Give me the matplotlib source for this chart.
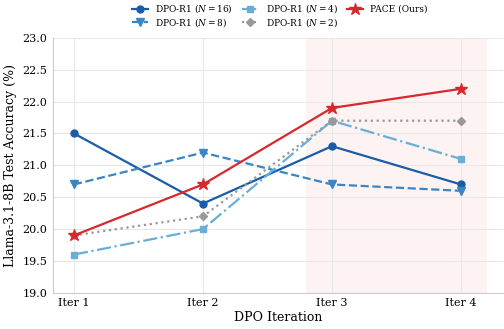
import matplotlib
matplotlib.use("Agg")
import matplotlib.pyplot as plt

iters = ["Iter 1", "Iter 2", "Iter 3", "Iter 4"]
n16 = [21.5, 20.4, 21.3, 20.7]
n8 = [20.7, 21.2, 20.7, 20.6]
n4 = [19.6, 20.0, 21.7, 21.1]
n2 = [19.9, 20.2, 21.7, 21.7]
pace = [19.9, 20.7, 21.9, 22.2]

plt.rcParams['font.family'] = ['DejaVu Serif']
plt.rcParams['mathtext.fontset'] = 'dejavuserif'

fig = plt.figure(figsize=(5.04, 3.29), dpi=100)
ax = fig.add_axes([0.105, 0.11, 0.893, 0.775])
x = list(range(len(iters)))

ax.axvspan(1.8, 3.2, color='#fdf3f2', lw=0, zorder=0)

ax.plot(x, n16, '-', color='#1a5ca8', marker='o', ms=5, lw=1.6, label=r'DPO-R1 ($N=16$)', zorder=3)
ax.plot(x, n8, '--', color='#3a85c3', marker='v', ms=5.5, lw=1.6, label=r'DPO-R1 ($N=8$)', zorder=3)
ax.plot(x, n4, '-.', color='#6aaed8', marker='s', ms=5, lw=1.6, label=r'DPO-R1 ($N=4$)', zorder=3)
ax.plot(x, n2, ':', color='#999999', marker='D', ms=4.5, lw=1.6, label=r'DPO-R1 ($N=2$)', zorder=3)
ax.plot(x, pace, '-', color='#d8282e', marker='*', ms=9, lw=1.6, label='PACE (Ours)', zorder=4)

ax.set_xlim(-0.163, 3.326)
ax.set_ylim(19.0, 23.0)
ax.set_yticks([19.0, 19.5, 20.0, 20.5, 21.0, 21.5, 22.0, 22.5, 23.0])
ax.set_yticklabels([f"{v:.1f}" for v in ax.get_yticks()])
ax.set_xticks(x)
ax.set_xticklabels(iters)
ax.tick_params(labelsize=8, length=0, pad=4)
ax.grid(True, color='#e8e8e8', lw=0.8, zorder=1)
ax.set_axisbelow(True)
for s in ['top', 'right']:
    ax.spines[s].set_visible(False)
for s in ['left', 'bottom']:
    ax.spines[s].set_color('#cccccc')
    ax.spines[s].set_linewidth(0.8)
ax.set_xlabel('DPO Iteration', fontsize=9, labelpad=2)
ax.set_ylabel('Llama-3.1-8B Test Accuracy (%)', fontsize=9)

fig.legend(loc='upper center', bbox_to_anchor=(0.555, 1.018), ncol=3, frameon=False,
           fontsize=6.5, handlelength=1.8, handletextpad=0.8, columnspacing=1.0, labelspacing=0.05)

fig.savefig('out.png', dpi=100)
